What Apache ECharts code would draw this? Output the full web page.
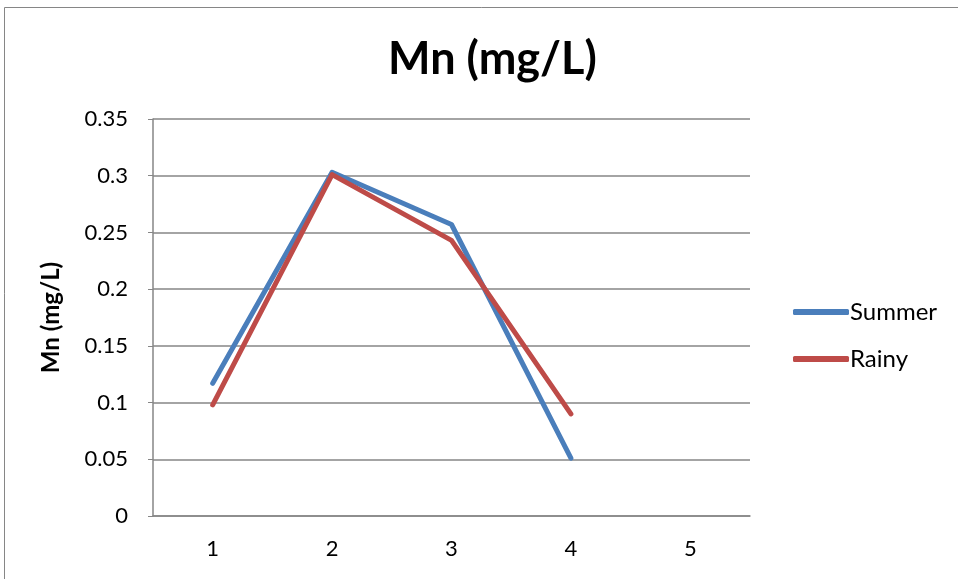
<!DOCTYPE html>
<html>
<head>
<meta charset="utf-8">
<script src="https://cdn.jsdelivr.net/npm/echarts@6/dist/echarts.min.js"></script>
<style>
  html, body { margin: 0; padding: 0; background: #fff; }
  #chart { width: 958px; height: 579px; }
</style>
</head>
<body>
<div id="chart"></div>
<script>
// 数据
const categories = ['1', '2', '3', '4', '5'];
const summer = [0.117, 0.303, 0.257, 0.051, null];
const rainy = [0.098, 0.301, 0.243, 0.090, null];

const font = 'Lato, "Open Sans", sans-serif';
const myChart = echarts.init(document.getElementById('chart'));

const options = {
  backgroundColor: '#fff',
  color: ['#4A7EBB', '#BE4B48'],
  animation: false,
  title: {
    text: 'Mn (mg/L)',
    left: 383,
    top: 32,
    textStyle: { fontFamily: font, fontSize: 45, fontWeight: 'bold', color: '#000' },
  },
  grid: { left: 153, right: 208, top: 119, bottom: 63 },
  legend: {
    orient: 'vertical',
    left: 788,
    top: 295,
    itemGap: 23,
    itemWidth: 56,
    itemHeight: 6,
    icon: 'roundRect',
    textStyle: { fontFamily: font, fontSize: 24, color: '#000', padding: [0, 0, 0, -4] },
    data: ['Summer', 'Rainy'],
  },
  graphic: [{
    type: 'rect',
    shape: { x: 4.5, y: 7.5, width: 1000, height: 1000 },
    style: { fill: null, stroke: '#868686', lineWidth: 1 },
    silent: true,
  }],
  xAxis: {
    type: 'category',
    data: categories,
    boundaryGap: true,
    axisLine: { lineStyle: { color: '#868686', width: 1.5 } },
    axisTick: { show: false },
    axisLabel: { fontFamily: font, fontSize: 22, color: '#000', margin: 22 },
  },
  yAxis: {
    type: 'value',
    min: 0,
    max: 0.35,
    interval: 0.05,
    name: 'Mn (mg/L)',
    nameLocation: 'middle',
    nameGap: 90,
    nameTextStyle: { fontFamily: font, fontSize: 24, fontWeight: 'bold', color: '#000' },
    axisLine: { show: true, lineStyle: { color: '#868686', width: 1.5 } },
    axisTick: { show: true, length: 5, lineStyle: { color: '#868686' } },
    axisLabel: {
      fontFamily: font, fontSize: 22, color: '#000', margin: 25,
      formatter(v) { return String(+v.toFixed(2)); },
    },
    splitLine: { lineStyle: { color: '#868686', width: 1.5 } },
  },
  series: [
    {
      name: 'Summer', type: 'line', data: summer, symbol: 'none',
      lineStyle: { width: 5, cap: 'round', join: 'round' },
    },
    {
      name: 'Rainy', type: 'line', data: rainy, symbol: 'none',
      lineStyle: { width: 5, cap: 'round', join: 'round' },
    },
  ],
};
myChart.setOption(options);
</script>
</body>
</html>
